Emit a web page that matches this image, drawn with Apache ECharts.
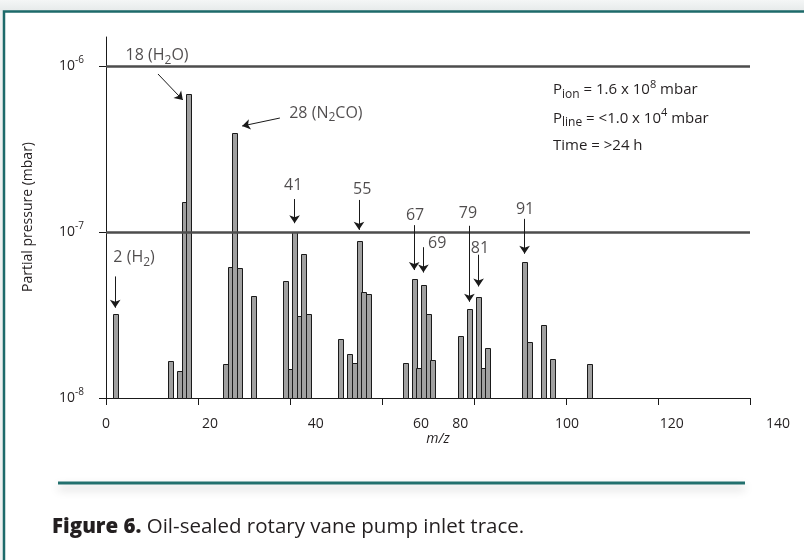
<!DOCTYPE html>
<html>
<head>
<meta charset="utf-8">
<script src="https://cdn.jsdelivr.net/npm/echarts@6/dist/echarts.min.js"></script>
<style>
html,body{margin:0;padding:0;background:#ffffff;}
#chart{width:804px;height:560px;}
</style>
</head>
<body>
<div id="chart"></div>
<script>
// ---------- DATA ----------
const massToCharge = [2, 14, 16, 17, 18, 26, 27, 28, 29, 32, 39, 40, 41, 42, 43, 44,
  51, 53, 54, 55, 56, 57, 65, 67, 68, 69, 70, 71, 77, 79, 81, 82, 83, 91, 92, 95, 97, 105];
const partialPressure = [3.2e-8, 1.67e-8, 1.45e-8, 1.52e-7, 6.8e-7, 1.6e-8, 6.15e-8, 3.95e-7, 6.07e-8, 4.1e-8,
  5.07e-8, 1.5e-8, 1.0e-7, 3.13e-8, 7.34e-8, 3.19e-8,
  2.27e-8, 1.84e-8, 1.63e-8, 8.8e-8, 4.37e-8, 4.23e-8,
  1.63e-8, 5.19e-8, 1.52e-8, 4.8e-8, 3.2e-8, 1.7e-8,
  2.36e-8, 3.44e-8, 4.06e-8, 1.51e-8, 2.0e-8,
  6.6e-8, 2.18e-8, 2.75e-8, 1.71e-8, 1.61e-8];
const xTickLabels = ['0', '20', '40', '60', '80', '100', '120', '140'];
const yTickExponents = ['-8', '-7', '-6'];
const gridLineValues = [1e-6, 1e-7];
const annotationTexts = ['18 (H{sub|2}O)', '28 (N{sub|2}CO)', '41', '55', '67', '69', '79', '81', '91', '2 (H{sub|2})'];
const annotationPeaks = [18, 28, 41, 55, 67, 69, 79, 81, 91, 2];
const infoLines = ['P{sub|ion} = 1.6 x 10{sup|8} mbar', 'P{sub|line} = <1.0 x 10{sup|4} mbar', 'Time = >24 h'];
const captionBold = 'Figure 6.';
const captionText = ' Oil-sealed rotary vane pump inlet trace.';

// ---------- LAYOUT (annotation placement, in axis units) ----------
const X_MIN = 0, X_MAX = 140, Y_MIN = 1e-8, Y_MAX = 1e-6;
const xLabelAt = [0, 22.6, 45.6, 68.5, 77, 100.2, 123, 146.1];
const annLabelAt = [[11.1, 1.15e-6], [47.8, 5.2e-7], [40.7, 1.9e-7], [55.7, 1.8e-7], [67.2, 1.26e-7],
  [72, 8.5e-8], [78.7, 1.3e-7], [81.3, 8.0e-8], [91.1, 1.36e-7], [6.1, 7.0e-8]];
// arrow: [tailX, tailY, tipX(null = peak), tipY]
const annArrow = [[11.3, 8.95e-7, 16.7, 6.24e-7], [37.8, 4.86e-7, 29.6, 4.35e-7],
  [null, 1.58e-7, null, 1.13e-7], [null, 1.56e-7, null, 1.03e-7], [null, 1.10e-7, null, 5.9e-8],
  [null, 8.1e-8, null, 5.7e-8], [null, 1.09e-7, null, 3.8e-8], [null, 7.3e-8, null, 4.7e-8],
  [null, 1.2e-7, null, 7.4e-8], [null, 5.4e-8, null, 3.5e-8]];

const FONT = '"Open Sans", "Noto Sans", sans-serif';
const INK = '#231f20';

const barData = massToCharge.map((m, i) => [m, partialPressure[i]]);
const labelData = annotationTexts.map((t, i) => ({ name: t, value: annLabelAt[i] }));
const arrowData = annArrow.map((a, i) => [
  { coord: [a[0] === null ? annotationPeaks[i] : a[0], a[1]], symbol: 'none' },
  { coord: [a[2] === null ? annotationPeaks[i] : a[2], a[3]], symbol: 'arrow' }
]);
const gridLineData = gridLineValues.map(v => [
  { coord: [X_MIN, v], symbol: 'none', lineStyle: { color: '#4d4d4d', width: 2.5, type: 'solid' } },
  { coord: [X_MAX, v], symbol: 'none' }
]);

const chart = echarts.init(document.getElementById('chart'), null, { renderer: 'canvas' });
chart.setOption({
  animation: false,
  backgroundColor: '#ffffff',
  textStyle: { fontFamily: FONT, color: INK },
  grid: [
    { left: 106, right: 54, top: 66, bottom: 162 },
    { left: 106, right: 8, top: 37, bottom: 162 }
  ],
  xAxis: [
    {
      type: 'value', gridIndex: 0, min: X_MIN, max: X_MAX, interval: 20,
      axisLine: { show: true, onZero: false, lineStyle: { color: '#1a1a1a', width: 1 } },
      axisTick: { show: true, length: 7, lineStyle: { color: '#1a1a1a' } },
      axisLabel: { show: false },
      splitLine: { show: false },
      name: 'm/z', nameLocation: 'middle', nameGap: 34,
      nameTextStyle: { fontStyle: 'italic', fontSize: 14, color: INK, fontFamily: FONT, padding: [0, 0, 0, 20] }
    },
    {
      type: 'value', gridIndex: 1, min: 0, max: 150,
      axisLine: { show: false }, axisTick: { show: false }, splitLine: { show: false },
      axisLabel: {
        show: true, margin: 19, fontSize: 14, color: INK, fontFamily: FONT,
        customValues: xLabelAt,
        formatter: function (v) {
          let best = 0, d = Infinity;
          xLabelAt.forEach((p, i) => { if (Math.abs(p - v) < d) { d = Math.abs(p - v); best = i; } });
          return xTickLabels[best];
        }
      }
    }
  ],
  yAxis: [
    {
      type: 'log', logBase: 10, gridIndex: 0, min: Y_MIN, max: Y_MAX,
      axisLine: { show: true, lineStyle: { color: '#1a1a1a', width: 1 } },
      axisTick: { show: true, length: 7, lineStyle: { color: '#1a1a1a' } },
      splitLine: { show: false },
      minorTick: { show: false },
      axisLabel: {
        margin: 22, color: INK, fontFamily: FONT,
        formatter: function (v) {
          const e = Math.round(Math.log10(v));
          const idx = e + 8;
          return '{b|10}{sup|' + (yTickExponents[idx] !== undefined ? yTickExponents[idx] : String(e)) + '}';
        },
        rich: {
          b: { fontSize: 14, color: INK, fontFamily: FONT },
          sup: { fontSize: 10, padding: [0, 0, 11, 0], color: INK, fontFamily: FONT }
        }
      },
      name: 'Partial pressure (mbar)', nameLocation: 'middle', nameGap: 71,
      nameTextStyle: { fontSize: 14, color: INK, fontFamily: FONT, padding: [0, 0, 0, 30] }
    },
    {
      type: 'value', gridIndex: 1, min: 0, max: 1,
      axisLine: { show: true, lineStyle: { color: '#1a1a1a', width: 1 } },
      axisTick: { show: false }, axisLabel: { show: false }, splitLine: { show: false }
    }
  ],
  series: [
    {
      type: 'custom',
      name: 'Partial pressure',
      coordinateSystem: 'cartesian2d',
      xAxisIndex: 0, yAxisIndex: 0,
      data: barData,
      encode: { x: 0, y: 1 },
      z: 3,
      renderItem: function (params, api) {
        const top = api.coord([api.value(0), api.value(1)]);
        const base = api.coord([api.value(0), Y_MIN]);
        const w = 5;
        const x0 = Math.round(top[0] - w / 2) + 0.5;
        return {
          type: 'rect',
          shape: { x: x0, y: Math.round(top[1]) + 0.5, width: w, height: Math.round(base[1]) - Math.round(top[1]) },
          style: { fill: '#a0a0a0', stroke: '#1a1a1a', lineWidth: 1 }
        };
      }
    },
    {
      type: 'scatter',
      name: 'annotations',
      xAxisIndex: 0, yAxisIndex: 0,
      clip: false,
      symbolSize: 0,
      silent: true,
      z: 5,
      data: labelData,
      label: {
        show: true, position: 'inside', formatter: '{b}',
        fontSize: 16, color: INK, fontFamily: FONT,
        rich: { sub: { fontSize: 12, padding: [9, 0, 0, 0], color: INK, fontFamily: FONT } }
      },
      markLine: {
        silent: true,
        symbol: ['none', 'arrow'],
        symbolSize: 8,
        label: { show: false },
        lineStyle: { color: '#1a1a1a', width: 1, type: 'solid' },
        data: gridLineData.concat(arrowData)
      }
    }
  ],
  graphic: [
    {
      type: 'rect', silent: true,
      shape: { x: 0, y: 0, width: 804, height: 11 },
      style: { fill: new echarts.graphic.LinearGradient(0, 0, 0, 1, [
        { offset: 0, color: '#f4f6f6' }, { offset: 1, color: '#e6eaea' }]) }
    },
    {
      type: 'rect', silent: true,
      shape: { x: 0, y: 11, width: 3, height: 549 },
      style: { fill: '#eef1f1' }
    },
    {
      type: 'rect', silent: true,
      shape: { x: 4, y: 11.5, width: 900, height: 700 },
      style: { fill: null, stroke: '#1d6a6a', lineWidth: 2.5 }
    },
    {
      type: 'line', silent: true,
      shape: { x1: 58, y1: 483, x2: 745, y2: 483 },
      style: { stroke: '#22706e', lineWidth: 3, shadowBlur: 10, shadowColor: 'rgba(0,0,0,0.22)', shadowOffsetY: 5 }
    },
    {
      type: 'text', silent: true, x: 52, y: 527,
      style: {
        text: '{b|' + captionBold + '}{n|' + captionText + '}',
        verticalAlign: 'middle',
        rich: {
          b: { fontSize: 20.5, fontWeight: 800, fontFamily: FONT, fill: INK },
          n: { fontSize: 20.5, fontFamily: FONT, fill: INK }
        }
      }
    }
  ].concat(infoLines.map((t, i) => ({
    type: 'text', silent: true, x: 553, y: [90, 118.5, 146][i],
    style: {
      text: t, fontSize: 15, fontFamily: FONT, fill: INK, verticalAlign: 'middle',
      rich: {
        sub: { fontSize: 12, padding: [9, 0, 0, 0], fontFamily: FONT, fill: INK },
        sup: { fontSize: 11, padding: [0, 0, 11, 0], fontFamily: FONT, fill: INK }
      }
    }
  })))
});
</script>
</body>
</html>
